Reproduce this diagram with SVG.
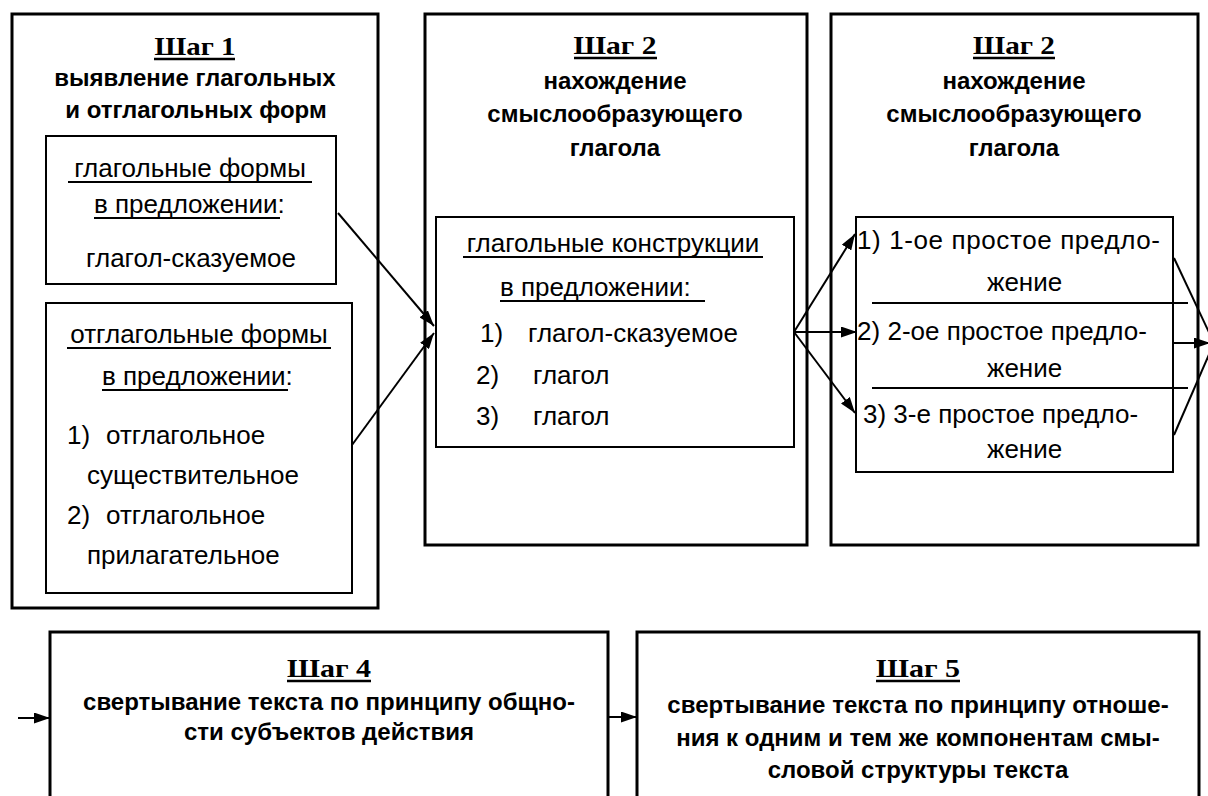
<svg xmlns="http://www.w3.org/2000/svg" width="1208" height="796" viewBox="0 0 1208 796">
<style>
.outer{fill:#fff;stroke:#000;stroke-width:3}
.inner{fill:#fff;stroke:#000;stroke-width:2}
.t{font-family:"Liberation Serif","Times New Roman",serif;font-weight:bold;font-size:26px;text-anchor:middle}
.h{font-family:"Liberation Sans",Arial,sans-serif;font-weight:bold;font-size:24px;text-anchor:middle}
.b{font-family:"Liberation Sans",Arial,sans-serif;font-size:26px}
.c{text-anchor:middle}
.ul{stroke:#000;stroke-width:2}
.tul{stroke:#000;stroke-width:2.5}
.sep{stroke:#000;stroke-width:2}
.conn line{stroke:#000;stroke-width:2}
</style>
<defs>
<marker id="ah" viewBox="0 0 16 11" refX="16" refY="5.5" markerWidth="8" markerHeight="5.5" orient="auto" markerUnits="strokeWidth">
<path d="M0,0 L16,5.5 L0,11 z" fill="#000"/>
</marker>
</defs>
<rect width="1208" height="796" fill="#fff"/>

<g id="step1">
<rect class="outer" x="12" y="14" width="366" height="594"/>
<text class="t" x="195" y="55" textLength="81" lengthAdjust="spacingAndGlyphs">Шаг 1</text>
<line class="tul" x1="154" y1="59" x2="235" y2="59"/>
<text class="h" x="195" y="86">выявление глагольных</text>
<text class="h" x="196" y="118">и отглагольных форм</text>
</g>

<g id="step1-verbal">
<rect class="inner" x="46" y="136" width="290" height="148"/>
<text class="b c" x="190" y="177">глагольные формы</text>
<line class="ul" x1="68" y1="182" x2="312" y2="182"/>
<text class="b" x="94" y="213">в предложении:</text>
<line class="ul" x1="94" y1="218" x2="280" y2="218"/>
<text class="b c" x="191" y="267">глагол-сказуемое</text>
</g>

<g id="step1-deverbal">
<rect class="inner" x="46" y="303" width="306" height="290"/>
<text class="b c" x="199" y="343">отглагольные формы</text>
<line class="ul" x1="67" y1="348" x2="331" y2="348"/>
<text class="b" x="102" y="385">в предложении:</text>
<line class="ul" x1="102" y1="390" x2="288" y2="390"/>
<text class="b" x="67" y="444">1)</text>
<text class="b" x="106" y="444">отглагольное</text>
<text class="b" x="87" y="484">существительное</text>
<text class="b" x="67" y="524">2)</text>
<text class="b" x="106" y="524">отглагольное</text>
<text class="b" x="87" y="564">прилагательное</text>
</g>

<g id="step2a">
<rect class="outer" x="425" y="14" width="382" height="531"/>
<text class="t" x="615" y="54" textLength="83" lengthAdjust="spacingAndGlyphs">Шаг 2</text>
<line class="tul" x1="574" y1="58" x2="657" y2="58"/>
<text class="h" x="615" y="89">нахождение</text>
<text class="h" x="615" y="122">смыслообразующего</text>
<text class="h" x="615" y="156">глагола</text>
</g>

<g id="step2a-constructions">
<rect class="inner" x="436" y="217" width="358" height="230"/>
<text class="b c" x="613" y="252">глагольные конструкции</text>
<line class="ul" x1="463" y1="257" x2="763" y2="257"/>
<text class="b" x="500" y="296">в предложении:</text>
<line class="ul" x1="500" y1="301" x2="705" y2="301"/>
<text class="b" x="480" y="342">1)</text>
<text class="b" x="528" y="342">глагол-сказуемое</text>
<text class="b" x="476" y="384">2)</text>
<text class="b" x="533" y="384">глагол</text>
<text class="b" x="476" y="425">3)</text>
<text class="b" x="533" y="425">глагол</text>
</g>

<g id="step2b">
<rect class="outer" x="831" y="14" width="367" height="531"/>
<text class="t" x="1014" y="54" textLength="82" lengthAdjust="spacingAndGlyphs">Шаг 2</text>
<line class="tul" x1="973" y1="58" x2="1055" y2="58"/>
<text class="h" x="1014" y="89">нахождение</text>
<text class="h" x="1014" y="122">смыслообразующего</text>
<text class="h" x="1014" y="156">глагола</text>
</g>

<g id="step2b-sentences">
<rect class="inner" x="856" y="217" width="317" height="255"/>
<text class="b" x="857" y="249" textLength="303" lengthAdjust="spacing">1) 1-ое простое предло-</text>
<text class="b" x="987" y="291">жение</text>
<line class="sep" x1="872" y1="303" x2="1188" y2="303"/>
<text class="b" x="857" y="340" textLength="290" lengthAdjust="spacing">2) 2-ое простое предло-</text>
<text class="b" x="987" y="377">жение</text>
<line class="sep" x1="872" y1="388" x2="1188" y2="388"/>
<text class="b" x="863" y="423">3) 3-е простое предло-</text>
<text class="b" x="987" y="458">жение</text>
</g>

<g id="step4">
<rect class="outer" x="50" y="632" width="558" height="200"/>
<text class="t" x="329" y="677" textLength="84" lengthAdjust="spacingAndGlyphs">Шаг 4</text>
<line class="tul" x1="287" y1="681" x2="371" y2="681"/>
<text class="h" x="329" y="710">свертывание текста по принципу общно-</text>
<text class="h" x="329" y="740">сти субъектов действия</text>
</g>

<g id="step5">
<rect class="outer" x="637" y="632" width="562" height="200"/>
<text class="t" x="918" y="677" textLength="84" lengthAdjust="spacingAndGlyphs">Шаг 5</text>
<line class="tul" x1="876" y1="681" x2="960" y2="681"/>
<text class="h" x="918" y="713">свертывание текста по принципу отноше-</text>
<text class="h" x="918" y="746">ния к одним и тем же компонентам смы-</text>
<text class="h" x="918" y="778">словой структуры текста</text>
</g>

<g id="connectors" class="conn">
<line x1="338" y1="213" x2="434" y2="326" marker-end="url(#ah)"/>
<line x1="352" y1="445" x2="434" y2="333" marker-end="url(#ah)"/>
<line x1="794" y1="332" x2="855" y2="234" marker-end="url(#ah)"/>
<line x1="794" y1="332" x2="857" y2="332" marker-end="url(#ah)"/>
<line x1="794" y1="332" x2="855" y2="413" marker-end="url(#ah)"/>
<line x1="1174" y1="258" x2="1214" y2="343"/>
<line x1="1174" y1="435" x2="1214" y2="343"/>
<line x1="1174" y1="343" x2="1210" y2="343" marker-end="url(#ah)"/>
<line x1="18" y1="718" x2="50" y2="718" marker-end="url(#ah)"/>
<line x1="608" y1="717" x2="637" y2="717" marker-end="url(#ah)"/>
</g>
</svg>
